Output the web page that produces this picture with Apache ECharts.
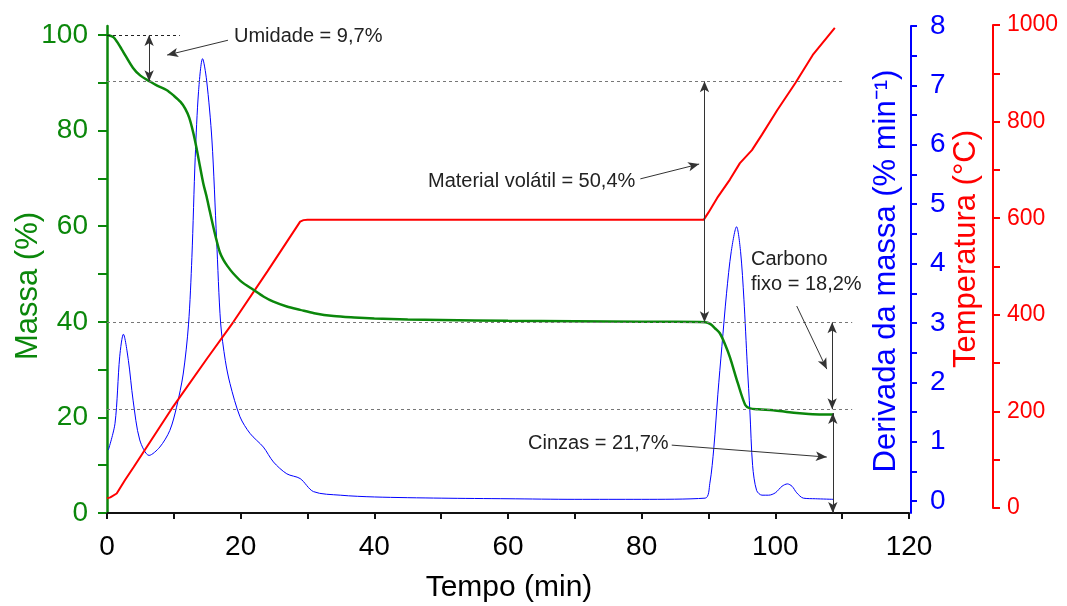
<!DOCTYPE html>
<html>
<head>
<meta charset="utf-8">
<script src="https://cdn.jsdelivr.net/npm/echarts@6/dist/echarts.min.js"></script>
<style>
  html, body { margin: 0; padding: 0; background: #fff; }
  #main { width: 1067px; height: 606px; }
</style>
</head>
<body>
<div id="main"></div>
<script>
// mass loss curve (TG)
var massTime = [0, 1, 2.2, 3.9, 5, 6.4, 7.5, 8.9, 10, 11, 11.7, 12.3, 12.9, 13.4, 13.9, 14.4, 14.9, 15.4, 15.9, 16.4, 16.9, 17.4, 18, 18.9, 20.2, 21.9, 23.4, 24.9, 26.9, 28.9, 31, 33.9, 37, 40, 45, 50, 60, 70, 80, 85, 89.5, 90.3, 91, 91.7, 92.5, 93.2, 94.4, 95.5, 96.2, 97.5, 99.7, 101.5, 103.2, 105, 107, 108.7];
var mass = [100, 99.5, 97, 93.1, 91.5, 90.3, 89.4, 88.5, 87.3, 86, 84.6, 82.7, 79.6, 76.3, 72.6, 69, 66.2, 63, 59.9, 57, 54.5, 53, 51.7, 50.1, 48.3, 46.7, 45.3, 44.2, 43.2, 42.5, 41.8, 41.2, 40.9, 40.7, 40.5, 40.4, 40.2, 40.1, 40.0, 40.0, 39.9, 39.5, 38.6, 37.6, 35.2, 32.6, 27.1, 22.6, 21.9, 21.7, 21.5, 21.2, 20.9, 20.7, 20.6, 20.6];

// derivative (DTG)
var dtgTime = [0.2, 1.2, 1.9, 2.45, 3.2, 3.9, 4.9, 6.3, 7.9, 9.4, 10.4, 11.4, 12.2, 12.7, 13.2, 13.7, 14.3, 14.9, 15.7, 16.4, 17, 17.7, 18.4, 19.9, 21.4, 23.4, 24.9, 26.9, 28.9, 30.9, 34.9, 40, 50, 60, 70, 80, 89.5, 90.2, 90.8, 91.4, 92, 92.7, 93.4, 94.2, 94.8, 95.3, 95.8, 96.2, 96.6, 97.2, 98, 99, 100, 101, 101.8, 102.5, 103.2, 104.2, 106, 108.7];
var dtg = [0.86, 1.31, 2.43, 2.81, 2.37, 1.7, 1.03, 0.77, 0.91, 1.19, 1.58, 2.14, 2.98, 4.1, 5.79, 6.9, 7.45, 7.09, 6.08, 4.4, 3.0, 2.37, 1.98, 1.42, 1.14, 0.91, 0.66, 0.46, 0.38, 0.16, 0.10, 0.07, 0.05, 0.04, 0.03, 0.03, 0.05, 0.3, 0.9, 1.8, 2.6, 3.5, 4.2, 4.62, 4.2, 3.4, 2.3, 1.5, 0.6, 0.18, 0.1, 0.1, 0.14, 0.25, 0.29, 0.25, 0.14, 0.05, 0.04, 0.03];

// furnace temperature
var tempTime = [0, 0.5, 1.45, 2.7, 4, 9.9, 15, 18.9, 24, 28.9, 29.4, 30, 40, 50, 60, 70, 80, 89.3, 90, 91.3, 93.2, 94.7, 96.5, 98, 100.3, 103, 105.6, 108.9];
var temp = [20, 22, 30, 58, 85, 210, 310, 385, 490, 593, 596, 597, 597, 597, 597, 597, 597, 597, 612, 642, 680, 714, 741, 773, 824, 880, 938, 994];

var massTicks = [0, 10, 20, 30, 40, 50, 60, 70, 80, 90, 100];
var massLabels = [0, 20, 40, 60, 80, 100];
var dtgTicks = [0, 0.5, 1, 1.5, 2, 2.5, 3, 3.5, 4, 4.5, 5, 5.5, 6, 6.5, 7, 7.5, 8];
var dtgLabels = [0, 1, 2, 3, 4, 5, 6, 7, 8];

function zip(a, b) {
    return a.map(function (v, i) { return [v, b[i]]; });
}

var GREEN = '#0b870b', BLUE = '#0000ff', RED = '#ff0000';
var FONT = 'Liberation Sans';

var dashed = { color: '#777', width: 1, type: [3, 3] };
var arrowStyle = { color: '#333', width: 1, type: 'solid' };

function hline(y, x1, x2, style) {
    return [{ coord: [x1, y], lineStyle: style }, { coord: [x2, y] }];
}
function arrow2(x, y1, y2) {
    return [{ coord: [x, y1], symbol: 'arrow', lineStyle: arrowStyle }, { coord: [x, y2], symbol: 'arrow' }];
}
function pointer(x1, y1, x2, y2) {
    return [{ coord: [x1, y1], symbol: 'none', lineStyle: arrowStyle }, { coord: [x2, y2], symbol: 'arrow' }];
}
function plain(v) { return String(v); }

var chart = echarts.init(document.getElementById('main'));
chart.setOption({
    animation: false,
    backgroundColor: '#fff',
    grid: [
        { left: 107, right: 158, top: 26, bottom: 93 },
        { left: 107, right: 158, top: 25, bottom: 98 }
    ],
    xAxis: [{
        gridIndex: 0, type: 'value', min: 0, max: 120, interval: 20,
        axisLine: { onZero: false, lineStyle: { color: '#111', width: 2 } },
        axisTick: { length: 6, lineStyle: { color: '#111', width: 2 } },
        minorTick: { show: true, splitNumber: 2, length: 6, lineStyle: { color: '#111', width: 2 } },
        axisLabel: { color: '#000', fontSize: 28, fontFamily: FONT, margin: 20, formatter: plain },
        splitLine: { show: false }
    }, {
        gridIndex: 1, type: 'value', min: 0, max: 120, show: false
    }],
    yAxis: [{
        gridIndex: 0, type: 'value', min: 0, max: 101.88, position: 'left',
        axisLine: { show: true, onZero: false, lineStyle: { color: GREEN, width: 2.5 } },
        axisTick: { show: true, length: 9, customValues: massTicks, lineStyle: { color: GREEN, width: 2 } },
        axisLabel: { color: GREEN, fontSize: 28, fontFamily: FONT, margin: 19, customValues: massLabels, formatter: plain },
        splitLine: { show: false }
    }, {
        gridIndex: 0, type: 'value', min: -0.2, max: 8, position: 'right', offset: 2,
        axisLine: { show: true, onZero: false, lineStyle: { color: BLUE, width: 2 } },
        axisTick: { show: true, length: 6, customValues: dtgTicks, lineStyle: { color: BLUE, width: 2 } },
        axisLabel: { color: BLUE, fontSize: 28, fontFamily: FONT, margin: 19, customValues: dtgLabels, formatter: plain },
        splitLine: { show: false }
    }, {
        gridIndex: 1, type: 'value', min: 0, max: 1000, interval: 200, position: 'right', offset: 84,
        axisLine: { show: true, onZero: false, lineStyle: { color: RED, width: 2 } },
        axisTick: { show: true, length: 7, lineStyle: { color: RED, width: 2 } },
        minorTick: { show: true, splitNumber: 2, length: 7, lineStyle: { color: RED, width: 2 } },
        axisLabel: { color: RED, fontSize: 23, fontFamily: FONT, margin: 14, formatter: plain },
        splitLine: { show: false }
    }],
    series: [{
        name: 'Massa',
        type: 'line', xAxisIndex: 0, yAxisIndex: 0,
        data: zip(massTime, mass),
        showSymbol: false, smooth: 0.3,
        lineStyle: { color: GREEN, width: 2.5 },
        z: 4,
        markLine: {
            silent: true, animation: false,
            symbol: ['none', 'none'], symbolSize: [7, 11],
            label: { show: false },
            emphasis: { disabled: true },
            data: [
                hline(100, 0, 10.9, { color: '#222', width: 1, type: [3, 3] }),
                hline(90.3, 0, 110.4, dashed),
                hline(39.9, 0, 111.5, dashed),
                hline(21.7, 0, 111.5, dashed),
                arrow2(6.3, 100, 90.3),
                arrow2(89.4, 90.3, 39.9),
                arrow2(108.5, 39.9, 21.7),
                arrow2(108.6, 20.9, 0),
                pointer(18.1, 98.9, 9.0, 95.8),
                pointer(79.8, 69.9, 88.6, 73.0),
                pointer(103.2, 43.3, 107.7, 30.1),
                pointer(84.5, 14.2, 107.7, 11.7)
            ]
        }
    }, {
        name: 'Derivada',
        type: 'line', xAxisIndex: 0, yAxisIndex: 1,
        data: zip(dtgTime, dtg),
        showSymbol: false, smooth: 0.3,
        lineStyle: { color: BLUE, width: 1 },
        z: 3
    }, {
        name: 'Temperatura',
        type: 'line', xAxisIndex: 1, yAxisIndex: 2,
        data: zip(tempTime, temp),
        showSymbol: false,
        lineStyle: { color: RED, width: 2 },
        z: 3
    }],
    graphic: [
        { type: 'text', left: 234, top: 26, style: { text: 'Umidade = 9,7%', fontSize: 20, fontFamily: FONT, fill: '#222' } },
        { type: 'text', left: 428, top: 171, style: { text: 'Material volátil = 50,4%', fontSize: 20, fontFamily: FONT, fill: '#222' } },
        { type: 'text', left: 751, top: 249, style: { text: 'Carbono', fontSize: 20, fontFamily: FONT, fill: '#222' } },
        { type: 'text', left: 751, top: 274, style: { text: 'fixo = 18,2%', fontSize: 20, fontFamily: FONT, fill: '#222' } },
        { type: 'text', left: 528, top: 433, style: { text: 'Cinzas = 21,7%', fontSize: 20, fontFamily: FONT, fill: '#222' } },
        { type: 'text', x: 509, y: 588, style: { text: 'Tempo (min)', fontSize: 30, fontFamily: FONT, fill: '#000', align: 'center', verticalAlign: 'middle' } },
        { type: 'text', x: 28, y: 286, rotation: Math.PI / 2, style: { text: 'Massa (%)', fontSize: 31, fontFamily: FONT, fill: GREEN, align: 'center', verticalAlign: 'middle' } },
        { type: 'text', x: 886, y: 271, rotation: Math.PI / 2, style: { text: 'Derivada da massa (% min⁻¹)', fontSize: 31, fontFamily: FONT, fill: BLUE, align: 'center', verticalAlign: 'middle' } },
        { type: 'text', x: 966, y: 249, rotation: Math.PI / 2, style: { text: 'Temperatura (°C)', fontSize: 31, fontFamily: FONT, fill: RED, align: 'center', verticalAlign: 'middle' } }
    ]
});
</script>
</body>
</html>
